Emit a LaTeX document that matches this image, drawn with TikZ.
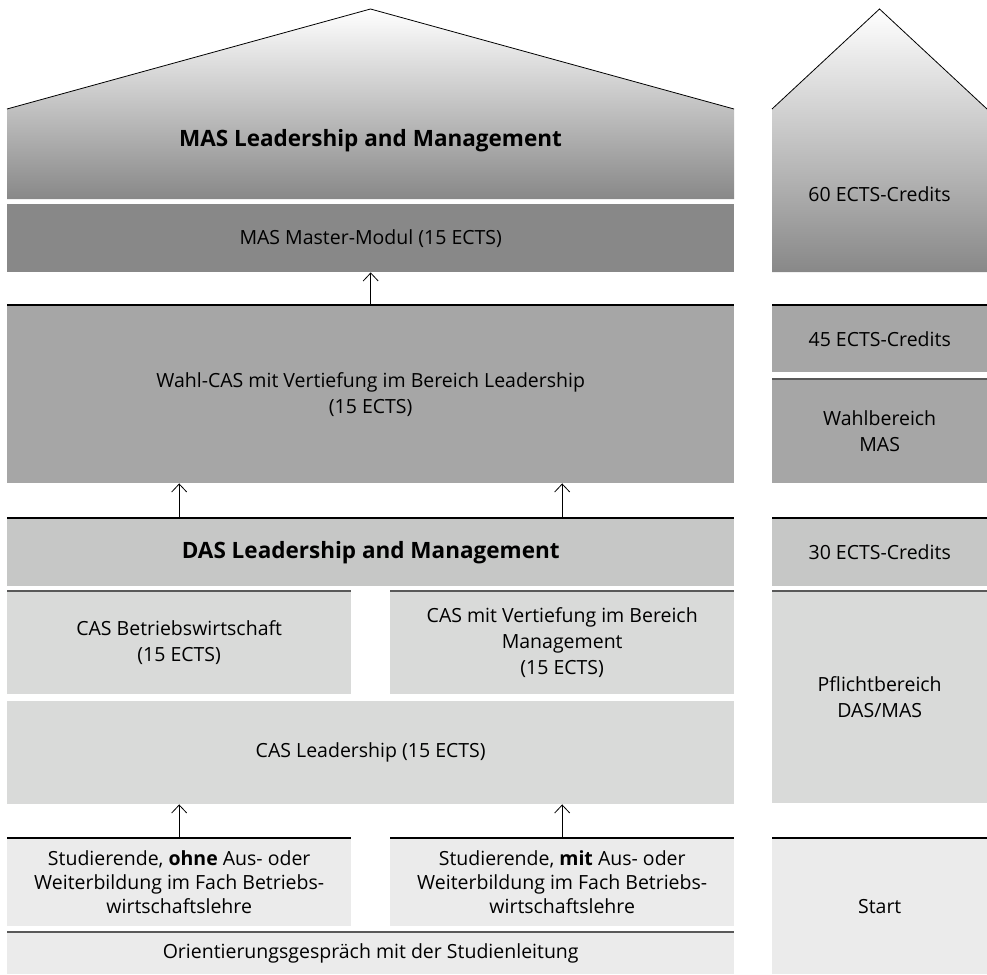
\documentclass[tikz,border=0pt]{standalone}
\usepackage{fontspec}
\setmainfont{Open Sans}
\usepackage{xcolor}
\usepackage{tikz}
\usetikzlibrary{arrows.meta}

\definecolor{tone1}{HTML}{888888}
\definecolor{tone2}{HTML}{A6A6A6}
\definecolor{tone3}{HTML}{C6C7C6}
\definecolor{tone4}{HTML}{D9DAD9}
\definecolor{tone5}{HTML}{EBEBEB}

\begin{document}
\begin{tikzpicture}[x=1pt,y=-1pt,>={Straight Barb[length=8pt,width=15pt]},
                    every node/.style={font=\fontsize{19.5}{26}\selectfont,
                    align=center,inner sep=0pt}]
\tikzstyle{box}=[anchor=north west]
\tikzstyle{wide}=[box,minimum width=727pt]
\tikzstyle{half}=[box,minimum width=344pt]
\tikzstyle{side}=[box,minimum width=215pt]
\tikzstyle{title}=[font=\fontsize{22.5}{26}\selectfont\bfseries]
\tikzstyle{blk}=[line width=2.5pt,black]
\tikzstyle{gry}=[line width=2pt,black!65]
\tikzstyle{arr}=[->,line width=0.8pt]
\useasboundingbox (0,0) rectangle (987,974);

% roofs
\shade[top color=white,middle color=black!14,bottom color=tone1]
  (7,109) -- (370.5,9) -- (734,109) -- (734,199) -- (7,199) -- cycle;
\draw[line width=0.8pt] (7,109) -- (370.5,9) -- (734,109);
\shade[top color=white,middle color=black!17,bottom color=tone1]
  (772,109) -- (879.5,9) -- (987,109) -- (987,272) -- (772,272) -- cycle;
\draw[line width=0.8pt] (772,109) -- (879.5,9) -- (987,109);
\node[title] (MAS) at (370.5,141) {MAS Leadership and Management};
\node (C60) at (879.5,194) {60 ECTS-Credits};

% left column
\node[wide,fill=tone1,minimum height=68pt] (MM) at (7,204) {MAS Master-Modul (15 ECTS)};
\node[wide,fill=tone2,minimum height=178pt] (WAHL) at (7,305)
  {Wahl-CAS mit Vertiefung im Bereich Leadership\\(15 ECTS)};
\node[wide,fill=tone3,minimum height=68pt,title] (DAS) at (7,518)
  {DAS Leadership and Management};
\node[half,fill=tone4,minimum height=103pt] (CASB) at (7,591)
  {CAS Betriebswirtschaft\\(15 ECTS)};
\node[half,fill=tone4,minimum height=103pt] (CASV) at (390,591)
  {CAS mit Vertiefung im Bereich\\Management\\(15 ECTS)};
\node[wide,fill=tone4,minimum height=103pt] (CASL) at (7,701) {CAS Leadership (15 ECTS)};
\node[half,fill=tone5,minimum height=88pt,font=\fontsize{19.5}{24}\selectfont] (STUDO) at (7,838)
  {Studierende, \textbf{ohne} Aus- oder\\Weiterbildung im Fach Betriebs-\\wirtschaftslehre};
\node[half,fill=tone5,minimum height=88pt,font=\fontsize{19.5}{24}\selectfont] (STUDM) at (390,838)
  {Studierende, \textbf{mit} Aus- oder\\Weiterbildung im Fach Betriebs-\\wirtschaftslehre};
\node[wide,fill=tone5,minimum height=42pt] (ORI) at (7,932)
  {Orientierungsgespräch mit der Studienleitung};

% right column
\node[side,fill=tone2,minimum height=67pt] (C45) at (772,305) {45 ECTS-Credits};
\node[side,fill=tone2,minimum height=104pt] (WB) at (772,379) {Wahlbereich\\MAS};
\node[side,fill=tone3,minimum height=68pt] (C30) at (772,518) {30 ECTS-Credits};
\node[side,fill=tone4,minimum height=212pt] (PB) at (772,591) {Pflichtbereich\\DAS/MAS};
\node[side,fill=tone5,minimum height=136pt] (START) at (772,838) {Start};

% top rules
\foreach \n in {WAHL,DAS,STUDO,STUDM,C45,C30,START}
  \draw[blk] (\n.north west) -- (\n.north east);
\foreach \n in {CASB,CASV,ORI,WB,PB}
  \draw[gry] (\n.north west) -- (\n.north east);

% arrows
\draw[arr] (WAHL.north) -- (MM.south);
\draw[arr] (CASB |- DAS.north) -- (CASB |- WAHL.south);
\draw[arr] (CASV |- DAS.north) -- (CASV |- WAHL.south);
\draw[arr] (STUDO.north) -- (STUDO |- CASL.south);
\draw[arr] (STUDM.north) -- (STUDM |- CASL.south);
\end{tikzpicture}
\end{document}
